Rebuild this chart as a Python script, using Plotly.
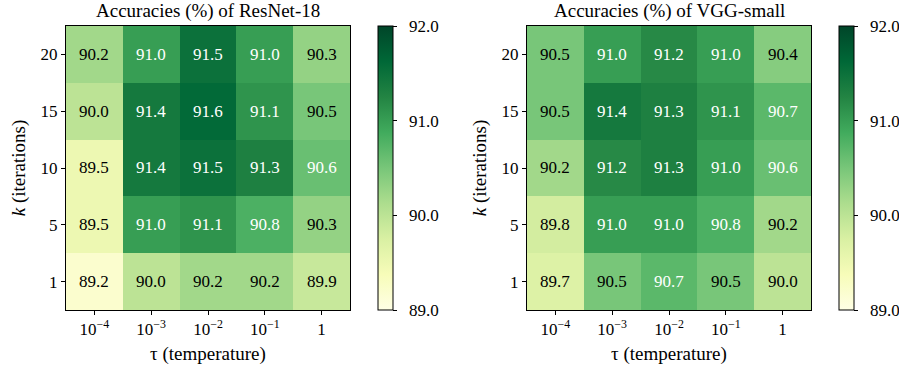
import plotly.graph_objects as go

tau_labels = ["10<sup>−4</sup>", "10<sup>−3</sup>", "10<sup>−2</sup>", "10<sup>−1</sup>", "1"]
k_labels = ["1", "5", "10", "15", "20"]

# rows: k = 1, 5, 10, 15, 20 ; columns: tau = 1e-4 ... 1
resnet_acc = [
    [89.2, 90.0, 90.2, 90.2, 89.9],
    [89.5, 91.0, 91.1, 90.8, 90.3],
    [89.5, 91.4, 91.5, 91.3, 90.6],
    [90.0, 91.4, 91.6, 91.1, 90.5],
    [90.2, 91.0, 91.5, 91.0, 90.3],
]
vgg_acc = [
    [89.7, 90.5, 90.7, 90.5, 90.0],
    [89.8, 91.0, 91.0, 90.8, 90.2],
    [90.2, 91.2, 91.3, 91.0, 90.6],
    [90.5, 91.4, 91.3, 91.1, 90.7],
    [90.5, 91.0, 91.2, 91.0, 90.4],
]
titles = ["Accuracies (%) of ResNet-18", "Accuracies (%) of VGG-small"]
cbar_ticks = [89.0, 90.0, 91.0, 92.0]

W, H = 899, 370
FONT = "Liberation Serif"

panels = [
    dict(x0=66, x1=350, cb=378),
    dict(x0=527, x1=811, cb=839),
]
y_top, y_bot = 26, 310
ydom = [(H - y_bot) / H, (H - y_top) / H]

fig = go.Figure()
annotations = []
layout = {}
for i, (data, title, p) in enumerate(zip([resnet_acc, vgg_acc], titles, panels)):
    n = i + 1
    xa = "x" if n == 1 else f"x{n}"
    ya = "y" if n == 1 else f"y{n}"
    fig.add_trace(go.Heatmap(
        z=data, x=list(range(5)), y=list(range(5)),
        xaxis=xa, yaxis=ya,
        colorscale="YlGn", zmin=89, zmax=92,
        colorbar=dict(
            x=p["cb"] / W, xanchor="left", xpad=0, ypad=0,
            y=sum(ydom) / 2, yanchor="middle", len=ydom[1] - ydom[0], lenmode="fraction",
            thickness=15, thicknessmode="pixels",
            outlinewidth=1, outlinecolor="black",
            tickvals=cbar_ticks, ticktext=["\u00a0\u00a0" + f"{v:.1f}" for v in cbar_ticks],
            ticks="outside", ticklen=4, tickcolor="black",
            tickfont=dict(family=FONT, size=17, color="black"),
        ),
        hoverinfo="skip",
    ))
    axkey = "xaxis" if n == 1 else f"xaxis{n}"
    aykey = "yaxis" if n == 1 else f"yaxis{n}"
    layout[axkey] = dict(
        domain=[p["x0"] / W, p["x1"] / W], anchor=ya,
        range=[-0.5, 4.5], tickvals=list(range(5)), ticktext=tau_labels,
        ticks="outside", ticklen=4, tickcolor="black",
        showline=True, mirror=True, linecolor="black", linewidth=1,
        showgrid=False, zeroline=False, automargin=False,
        tickfont=dict(family=FONT, size=17, color="black"),
        title=dict(text="τ (temperature)", font=dict(family=FONT, size=19, color="black"), standoff=8),
    )
    layout[aykey] = dict(
        domain=ydom, anchor=xa,
        range=[-0.5, 4.5], tickvals=list(range(5)), ticktext=k_labels,
        ticks="outside", ticklen=4, tickcolor="black",
        showline=True, mirror=True, linecolor="black", linewidth=1,
        showgrid=False, zeroline=False, automargin=False,
        tickfont=dict(family=FONT, size=17, color="black"),
        title=dict(text="<i>k</i> (iterations)", font=dict(family=FONT, size=19, color="black"), standoff=9),
    )
    for r, row in enumerate(data):
        for c, v in enumerate(row):
            annotations.append(dict(
                x=c, y=r, xref=xa, yref=ya, text=f"{v:.1f}", showarrow=False,
                font=dict(family=FONT, size=17, color="white" if v >= 90.55 else "black"),
            ))
    annotations.append(dict(
        x=(p["x0"] + p["x1"]) / 2 / W, y=1 - 11 / H, xref="paper", yref="paper",
        text=title, showarrow=False, xanchor="center", yanchor="middle",
        font=dict(family=FONT, size=19, color="black"),
    ))

fig.update_layout(
    width=W, height=H, margin=dict(l=0, r=0, t=0, b=0, autoexpand=False),
    paper_bgcolor="white", plot_bgcolor="white",
    annotations=annotations, **layout,
)
fig.write_html(
    "out.html",
    config={"displayModeBar": False, "staticPlot": True},
    post_script="document.body.style.margin='0';document.body.style.overflow='hidden';",
)
